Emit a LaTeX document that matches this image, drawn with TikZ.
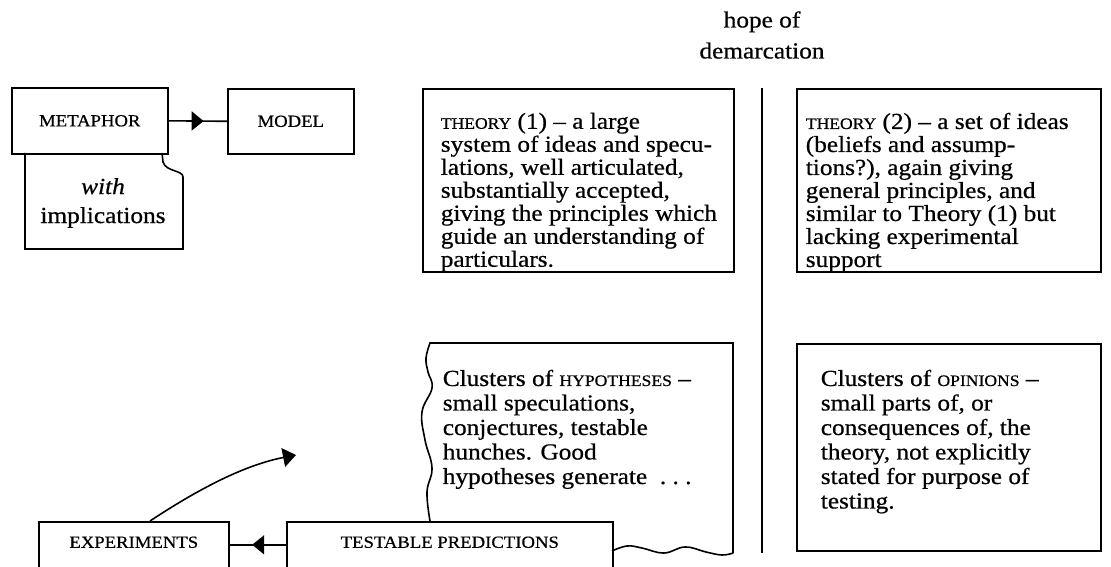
\documentclass[tikz,border=0pt]{standalone}
\usepackage{fontspec}
\setmainfont{Liberation Serif}[FakeStretch=1.1,FakeBold=0.6]
\usetikzlibrary{arrows.meta,decorations.markings}
\newcommand{\smc}[1]{{\fontsize{16}{23}\selectfont #1}}
\begin{document}
\begin{tikzpicture}[x=1pt,y=-1pt,line width=1.6pt,
  frame/.style={draw, inner sep=0pt, anchor=north west},
  capsname/.style={font=\fontsize{17}{20}\selectfont},
  bodytxt/.style={font=\fontsize{23}{#1}\selectfont, align=left, inner sep=0pt, anchor=north west},
  bodytxt/.default=23,
  midarrow/.style={postaction={decorate}, decoration={markings,
     mark=at position #1 with {\arrow{Triangle[length=12pt,width=19pt]}}}},
  curvedtip/.style={-{Triangle[length=13pt,width=19pt]}}
]
\useasboundingbox (0,0) rectangle (1111,567);
\clip (0,0) rectangle (1111,567);
\fill[white] (0,0) rectangle (1111,567);

% heading
\node[font=\fontsize{23}{31}\selectfont, align=center, inner sep=0pt] (hope) at (762,35) {hope of\\demarcation};
\coordinate (vtop) at (762,88);
\coordinate (vbot) at (762,553);
\draw (vtop) -- (vbot);

% metaphor / model
\node[frame, capsname, minimum width=156, minimum height=66] (met) at (11,87) {METAPHOR};
\node[frame, capsname, minimum width=126, minimum height=65] (mod) at (227,88) {MODEL};
\draw[midarrow=0.6] (met.east) -- (mod.west);

% with implications
\draw (25,153) -- (25,249) -- (183,249) -- (183,177)
   .. controls (183,170) and (166,172) .. (163,162) -- (162,153);
\node[font=\fontsize{23}{29}\selectfont, align=center, inner sep=0pt] (impl) at (103,203) {\textit{with}\\implications};

% theory boxes
\node[frame, minimum width=311, minimum height=183] (t1) at (422,88) {};
\node[bodytxt] (t1txt) at (440,112) {\smc{THEORY} (1) -- a large\\
system of ideas and specu-\\
lations, well articulated,\\
substantially accepted,\\
giving the principles which\\
guide an understanding of\\
particulars.};

\node[frame, minimum width=304, minimum height=183] (t2) at (796,88) {};
\node[bodytxt] (t2txt) at (805,112) {\smc{THEORY} (2) -- a set of ideas\\
(beliefs and assump-\\
tions?), again giving\\
general principles, and\\
similar to Theory (1) but\\
lacking experimental\\
support};

% hypotheses box (torn edges)
\draw plot[smooth, tension=0.7] coordinates {(430,521) (427,492) (432,468) (425,440) (422,412) (432,388) (428,372) (426,358) (430,343)}
   -- (733,343) -- (733,553)
   plot[smooth, tension=0.7] coordinates {(733,553) (722,555) (706,552) (685,547) (664,553) (642,548) (627,546) (612,551)};
\node[bodytxt=24.5] (hyptxt) at (442,369) {Clusters of \smc{HYPOTHESES} --\\
small speculations,\\
conjectures, testable\\
hunches. Good\\
hypotheses generate~~.~.~.};

% opinions box
\node[frame, minimum width=304, minimum height=207] (op) at (796,343) {};
\node[bodytxt=24.5] (optxt) at (820,369) {Clusters of \smc{OPINIONS} --\\
small parts of, or\\
consequences of, the\\
theory, not explicitly\\
stated for purpose of\\
testing.};

% experiments / predictions
\node[frame, capsname, minimum width=190, inner ysep=9pt, text height=17pt, text depth=45pt] (exp) at (38,521) {EXPERIMENTS};
\node[frame, capsname, minimum width=326, inner ysep=9pt, text height=17pt, text depth=45pt] (tp) at (286,521) {TESTABLE PREDICTIONS};
\draw[midarrow=0.6] ([yshift=3pt]tp.base west) -- ([yshift=3pt]exp.base east);

\coordinate (ctip) at (296,455);
\draw[curvedtip] ([xshift=112pt]exp.north west) .. controls (200,488) and (245,465) .. (ctip);
\end{tikzpicture}
\end{document}
